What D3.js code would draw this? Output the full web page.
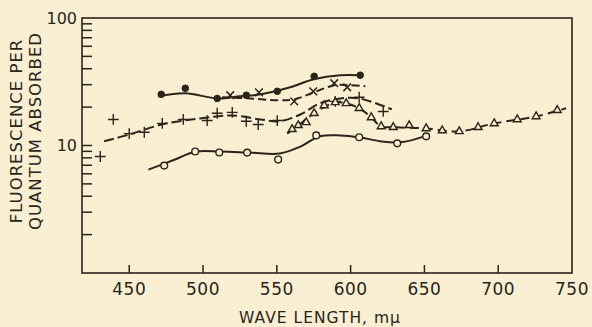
<!DOCTYPE html>
<html>
<head>
<meta charset="utf-8">
<script src="https://cdn.jsdelivr.net/npm/d3@7"></script>
<style>
  html, body { margin: 0; padding: 0; background: #faefd3; }
  svg { display: block; }
  text { font-family: "DejaVu Sans", sans-serif; fill: #2b2419; }
</style>
</head>
<body>
<svg id="chart" width="592" height="327"></svg>
<script>
// wave length (m\u03bc) vs fluorescence per quantum absorbed
var dotPts = [[471.7, 25.2], [488, 28.1], [509.6, 23.4], [529.3, 24.8], [550.3, 26.6], [575.3, 34.9], [606.5, 35.6]]
var dotCurve = [[469.7, 24.3], [488, 25.7], [509.6, 23.4], [525, 24.3], [539, 25.2], [559, 28.6], [575, 33.1], [593, 35.6], [606.5, 35.6]]

var xPts = [[518.4, 24.8], [537.9, 26.1], [561.8, 22.2], [574.7, 26.6], [588.9, 30.8], [597.7, 28.6]]
var xCurve = [[513, 23.9], [532, 23.4], [552, 22.6], [562, 23.0], [575, 26.1], [589, 29.7], [598, 29.7], [610, 29.2]]

var plusPts = [[430.4, 8.2], [439.2, 16.0], [450, 12.4], [460.2, 12.7], [472.4, 14.9], [486.6, 16.0], [502.8, 15.7],
    [509.6, 17.9], [519.8, 18.2], [529.3, 15.5], [537.4, 14.6], [550.3, 15.7], [589.6, 22.2], [605.8, 23.9], [622.1, 18.5]]
var plusCurve = [[433, 10.8], [450, 12.2], [472, 14.6], [498, 16.3], [520, 17.2], [539, 16.0], [552, 15.5],
    [566, 17.5], [579, 21.4], [593, 23.4], [606, 23.4], [628, 19.2]]

var triPts = [[560.4, 13.4], [564.5, 14.4], [569.9, 15.2], [575.3, 17.9], [582.1, 20.6], [589.6, 21.8], [597.0, 21.4],
    [605.8, 19.6], [614.0, 16.6], [620.7, 14.1], [628.9, 13.9], [639.7, 14.4], [651.2, 13.6], [662.1, 13.1],
    [673.6, 12.9], [686.4, 13.9], [697.3, 14.9], [712.9, 16.0], [725.7, 16.9], [740.0, 18.9]]
var triCurve = [[557, 12.4], [564.5, 14.4], [575.3, 17.9], [589.6, 21.8], [597, 21.4], [605.8, 19.6], [614, 16.6],
    [620.7, 14.1], [628.9, 13.9], [651.2, 13.6], [673.6, 12.9], [697.3, 14.9], [725.7, 16.9], [746, 19.6]]

var circPts = [[473.7, 6.96], [494.7, 8.97], [511, 8.81], [529.9, 8.8], [550.9, 7.76], [576.7, 12.0], [605.8, 11.6], [631.6, 10.4], [651.2, 11.8]]
var circCurve = [[463, 6.47], [481, 7.76], [495, 8.97], [512, 8.97], [532, 8.8], [552, 8.65], [566, 9.8],
    [579, 11.8], [593, 12.0], [606, 11.6], [620, 10.8], [634, 10.6], [651, 11.9]]

var xTicks = [450, 500, 550, 600, 650, 700, 750]
var yLabels = [10, 100]

;(function () {
    'use strict'

    var ink = '#2b2419', bg = '#faefd3'
    var margin = { top: 18, right: 20, bottom: 54, left: 82 },
        width = 592 - margin.left - margin.right,
        height = 327 - margin.top - margin.bottom

    var svg = d3.select('#chart')
    var g = svg.append('g').attr('transform', 'translate(' + margin.left + ',' + margin.top + ')')

    var x = d3.scaleLinear().domain([418, 750]).range([0, width])
    var y = d3.scaleLog().domain([1, 100]).range([height, 0])

    // frame
    g.append('rect')
        .attr('width', width).attr('height', height)
        .attr('fill', 'none').attr('stroke', ink).attr('stroke-width', 1.6)

    // y ticks (inward), minor at 2..9 per decade
    var yt = []
    ;[1, 10].forEach(function (d) { for (var k = 1; k <= 9; k++) yt.push(d * k) })
    yt = yt.filter(function (d) { return d > 1 && d < 100 })
    g.selectAll('.ytick').data(yt).enter().append('line')
        .attr('x1', 0).attr('x2', 10)
        .attr('y1', function (d) { return y(d) }).attr('y2', function (d) { return y(d) })
        .attr('stroke', ink).attr('stroke-width', 1.5)

    g.selectAll('.ylab').data(yLabels).enter().append('text')
        .attr('x', -5).attr('y', function (d) { return y(d) })
        .attr('dy', '0.36em').attr('text-anchor', 'end')
        .style('font-size', '16px')
        .text(function (d) { return d })

    // x ticks (inward)
    g.selectAll('.xtick').data(xTicks.slice(0, -1)).enter().append('line')
        .attr('x1', function (d) { return x(d) }).attr('x2', function (d) { return x(d) })
        .attr('y1', height).attr('y2', height - 8)
        .attr('stroke', ink).attr('stroke-width', 1.5)

    g.selectAll('.xlab').data(xTicks).enter().append('text')
        .attr('x', function (d) { return x(d) }).attr('y', height + 22)
        .attr('text-anchor', 'middle')
        .style('font-size', '17px').style('letter-spacing', '0.5px')
        .text(function (d) { return d })

    svg.append('text')
        .attr('x', 320).attr('y', 323)
        .attr('text-anchor', 'middle')
        .style('font-size', '15.5px').style('letter-spacing', '1px')
        .text('WAVE LENGTH, m\u03bc')

    var ytitle = svg.append('g').attr('transform', 'translate(0,131) rotate(-90)')
    ytitle.append('text').attr('x', 0).attr('y', 22).attr('text-anchor', 'middle')
        .style('font-size', '16.5px').style('letter-spacing', '1px').text('FLUORESCENCE PER')
    ytitle.append('text').attr('x', 0).attr('y', 41).attr('text-anchor', 'middle')
        .style('font-size', '16.5px').style('letter-spacing', '1px').text('QUANTUM ABSORBED')

    // curves
    var line = d3.line()
        .x(function (d) { return x(d[0]) })
        .y(function (d) { return y(d[1]) })
        .curve(d3.curveCatmullRom.alpha(0.5))

    function curve(data, dash) {
        g.append('path').datum(data)
            .attr('d', line)
            .attr('fill', 'none').attr('stroke', ink).attr('stroke-width', 2)
            .attr('stroke-dasharray', dash)
    }
    curve(dotCurve, null)
    curve(xCurve, '8,4')
    curve(plusCurve, '10,4')
    curve(triCurve, '9,5')
    curve(circCurve, null)

    // markers
    function markers(data, type, size, fill, sw) {
        g.selectAll(null).data(data).enter().append('path')
            .attr('transform', function (d) { return 'translate(' + x(d[0]) + ',' + y(d[1]) + ')' })
            .attr('d', d3.symbol().type(type).size(size))
            .attr('fill', fill).attr('stroke', ink).attr('stroke-width', sw)
    }
    markers(dotPts, d3.symbolCircle, 34, ink, 1)
    markers(xPts, d3.symbolX, 40, 'none', 1.5)
    markers(plusPts, d3.symbolPlus, 40, 'none', 1.4)
    markers(triPts, d3.symbolTriangle2, 44, bg, 1.4)
    markers(circPts, d3.symbolCircle, 36, bg, 1.4)
})()
</script>
</body>
</html>
